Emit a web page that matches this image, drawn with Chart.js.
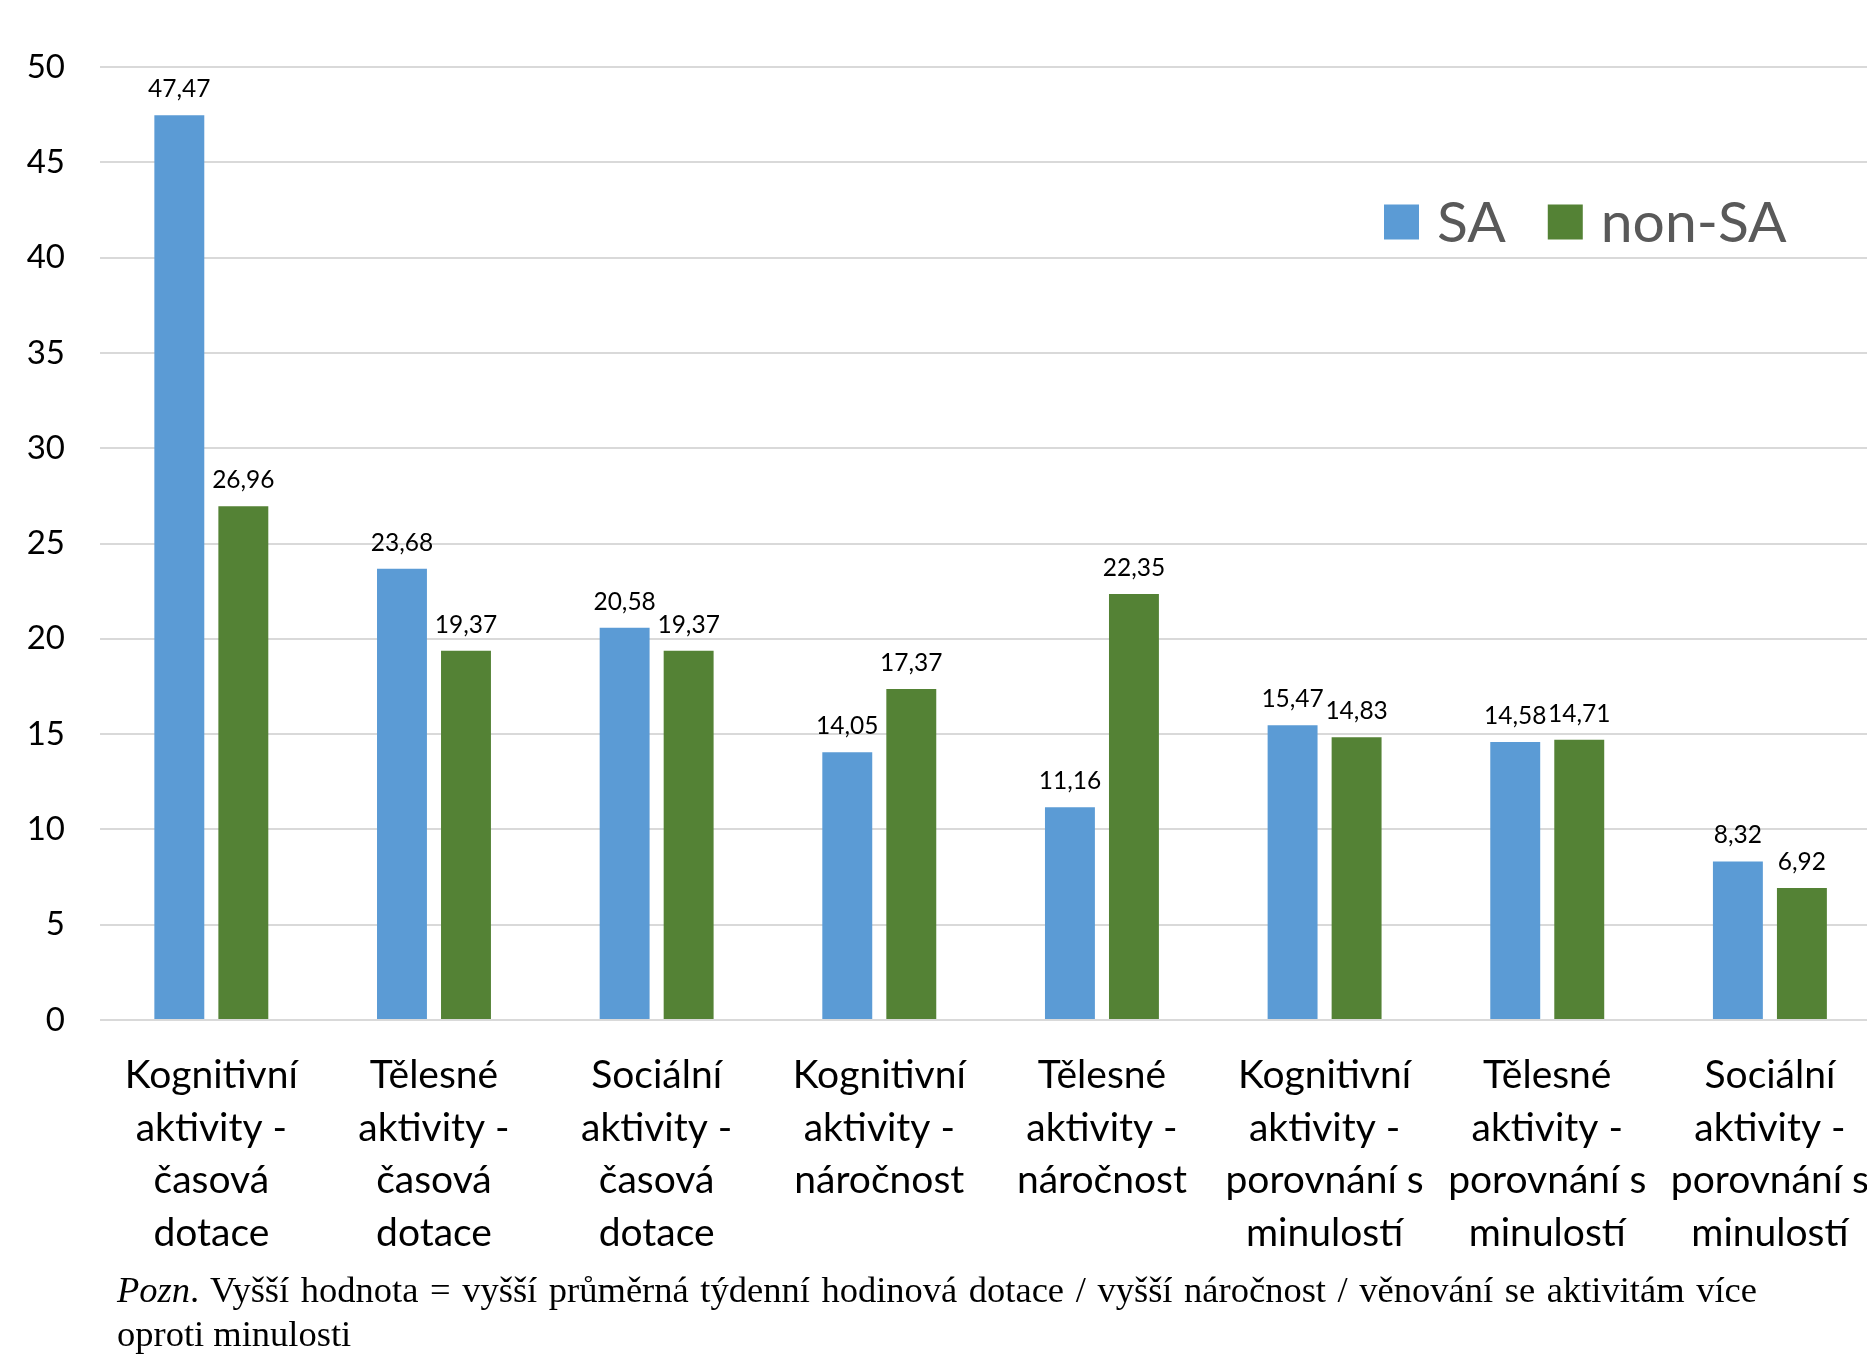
<!DOCTYPE html>
<html>
<head>
<meta charset="utf-8">
<script src="https://cdn.jsdelivr.net/npm/chart.js@4.4.1/dist/chart.umd.min.js"></script>
<style>
  html, body { margin: 0; padding: 0; background: #fff; overflow: hidden; width: 1867px; height: 1356px; }
  #wrap { position: relative; width: 1867px; height: 1356px; overflow: hidden; }
  #c { position: absolute; left: 0; top: 0; }
  .note { position: absolute; left: 117px; top: 1268px; width: 1640px;
          font-family: "Liberation Serif", "Times New Roman", serif; font-size: 36.5px; line-height: 44px; color: #000; }
  .note .l1 { display: block; text-align: justify; text-align-last: justify; }
</style>
</head>
<body>
<div id="wrap">
  <canvas id="c" width="1890" height="1270"></canvas>
  <div class="note"><span class="l1"><i>Pozn</i>. Vyšší hodnota = vyšší průměrná týdenní hodinová dotace / vyšší náročnost / věnování se aktivitám více</span><span>oproti minulosti</span></div>
</div>
<script>
// Categories (multi-line labels)
const categories = [
  ["Kognitivní", "aktivity -", "časová", "dotace"],
  ["Tělesné", "aktivity -", "časová", "dotace"],
  ["Sociální", "aktivity -", "časová", "dotace"],
  ["Kognitivní", "aktivity -", "náročnost"],
  ["Tělesné", "aktivity -", "náročnost"],
  ["Kognitivní", "aktivity -", "porovnání s", "minulostí"],
  ["Tělesné", "aktivity -", "porovnání s", "minulostí"],
  ["Sociální", "aktivity -", "porovnání s", "minulostí"]
];
const seriesNames = ["SA", "non-SA"];
const saValues    = [47.47, 23.68, 20.58, 14.05, 11.16, 15.47, 14.58, 8.32];
const nonSaValues = [26.96, 19.37, 19.37, 17.37, 22.35, 14.83, 14.71, 6.92];
const yMin = 0, yMax = 50, yStep = 5;

const BLUE = "#5B9BD5";
const GREEN = "#548235";

Chart.defaults.font.family = "Lato, 'Open Sans', sans-serif";

const fmt = v => v.toFixed(2).replace(".", ",");

// Value labels above every bar
const valueLabels = {
  id: "valueLabels",
  afterDatasetsDraw(chart) {
    const ctx = chart.ctx;
    ctx.save();
    ctx.font = "24.5px Lato";
    ctx.fillStyle = "#000";
    ctx.textAlign = "center";
    ctx.textBaseline = "alphabetic";
    chart.data.datasets.forEach((ds, di) => {
      const meta = chart.getDatasetMeta(di);
      meta.data.forEach((bar, i) => {
        ctx.fillText(fmt(ds.data[i]), bar.x, bar.y - 18);
      });
    });
    ctx.restore();
  }
};

// Legend drawn inside the plot, upper right
const innerLegend = {
  id: "innerLegend",
  afterDraw(chart) {
    const ctx = chart.ctx;
    ctx.save();
    ctx.font = "57px Lato";
    ctx.textAlign = "left";
    ctx.textBaseline = "middle";
    let x = 1384;
    const cy = 222, box = 35;
    chart.data.datasets.forEach(ds => {
      ctx.fillStyle = ds.backgroundColor;
      ctx.fillRect(x, cy - box / 2, box, box);
      x += box + 18;
      ctx.fillStyle = "#595959";
      ctx.fillText(ds.label, x, cy + 2);
      x += ctx.measureText(ds.label).width + 42;
    });
    ctx.restore();
  }
};

new Chart(document.getElementById("c"), {
  type: "bar",
  data: {
    labels: categories,
    datasets: [
      { label: seriesNames[0], data: saValues, backgroundColor: BLUE,
        categoryPercentage: 0.575, barPercentage: 0.78 },
      { label: seriesNames[1], data: nonSaValues, backgroundColor: GREEN,
        categoryPercentage: 0.575, barPercentage: 0.78 }
    ]
  },
  options: {
    responsive: false,
    animation: false,
    devicePixelRatio: 1,
    layout: { padding: { top: 67, right: 0, bottom: 0, left: 0 } },
    plugins: { legend: { display: false }, tooltip: { enabled: false } },
    scales: {
      x: {
        grid: { display: false },
        border: { display: false },
        ticks: {
          color: "#000",
          font: { size: 39, lineHeight: 1.35 },
          padding: 21,
          maxRotation: 0,
          autoSkip: false
        },
        afterFit: s => { s.height = 250; }
      },
      y: {
        min: yMin, max: yMax,
        grid: { color: "#d9d9d9", lineWidth: 2, drawTicks: false },
        border: { display: false },
        ticks: { stepSize: yStep, color: "#000", font: { size: 33 }, padding: 35 },
        afterFit: s => { s.width = 100; }
      }
    }
  },
  plugins: [valueLabels, innerLegend]
});
</script>
</body>
</html>
